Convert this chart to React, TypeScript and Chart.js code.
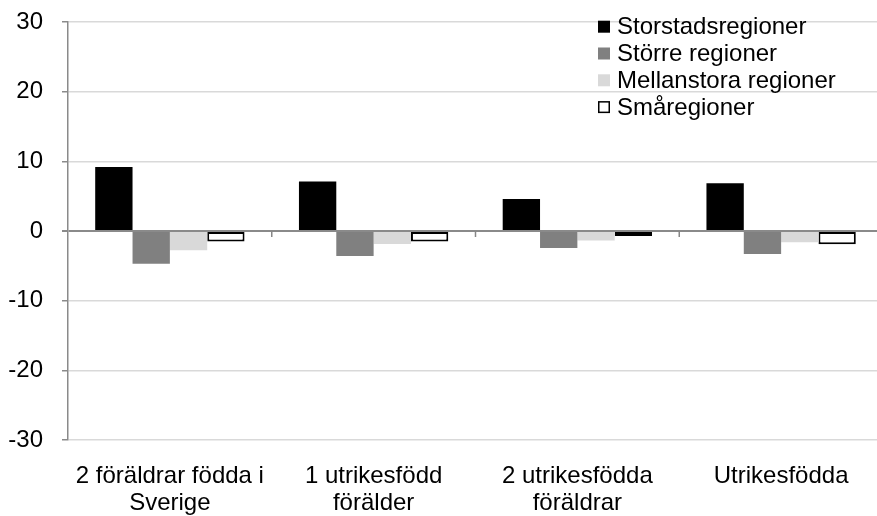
import React, { useEffect, useRef } from "react";
import { Chart, registerables } from "chart.js";

Chart.register(...registerables);

const categories: string[][] = [
  ["2 föräldrar födda i", "Sverige"],
  ["1 utrikesfödd", "förälder"],
  ["2 utrikesfödda", "föräldrar"],
  ["Utrikesfödda"],
];

const seriesNames = ["Storstadsregioner", "Större regioner", "Mellanstora regioner", "Småregioner"];
const storstadsregioner = [9.2, 7.1, 4.6, 6.85];
const storreRegioner = [-4.7, -3.6, -2.45, -3.3];
const mellanstoraRegioner = [-2.75, -1.85, -1.35, -1.6];
const smaregioner = [-1.5, -1.5, -0.7, -1.9];

const yTicks = [-30, -20, -10, 0, 10, 20, 30];

const FONT = "'Liberation Sans', Arial, sans-serif";

const fills = ["#000000", "#808080", "#d9d9d9", "#ffffff"];
const borders = ["#000000", "#808080", "#d9d9d9", "#000000"];
const borderWidths = [0, 0, 0, 2];

const customPlugin = {
  id: "customLegendAndTicks",
  afterDatasetsDraw(chart: any) {
    const ctx = chart.ctx;
    const x = chart.scales.x;
    const y = chart.scales.y;
    const y0 = y.getPixelForValue(0);
    ctx.save();
    ctx.strokeStyle = "#868686";
    ctx.lineWidth = 1.5;
    const n = categories.length;
    for (let i = 1; i < n; i++) {
      const px = (x.getPixelForValue(i - 1) + x.getPixelForValue(i)) / 2;
      ctx.beginPath();
      ctx.moveTo(px, y0);
      ctx.lineTo(px, y0 + 6);
      ctx.stroke();
    }
    const lx = 598;
    const ly = 26.7;
    const step = 26.8;
    ctx.font = `24px ${FONT}`;
    ctx.textBaseline = "middle";
    ctx.textAlign = "left";
    chart.data.datasets.forEach((ds: any, i: number) => {
      const cy = ly + i * step;
      ctx.fillStyle = ds.backgroundColor;
      ctx.fillRect(lx, cy - 6, 12, 12);
      if (ds.borderWidth) {
        ctx.strokeStyle = "#000";
        ctx.lineWidth = 1.5;
        ctx.strokeRect(lx + 0.75, cy - 5.25, 10.5, 10.5);
      }
      ctx.fillStyle = "#000";
      ctx.fillText(ds.label, 617, cy + 1);
    });
    ctx.restore();
  },
};

export default function App() {
  const ref = useRef<HTMLCanvasElement | null>(null);
  useEffect(() => {
    document.body.style.margin = "0";
    const values = [storstadsregioner, storreRegioner, mellanstoraRegioner, smaregioner];
    const chart = new Chart(ref.current as HTMLCanvasElement, {
      type: "bar",
      data: {
        labels: categories as any,
        datasets: seriesNames.map((name, i) => ({
          label: name,
          data: values[i],
          backgroundColor: fills[i],
          borderColor: borders[i],
          borderWidth: borderWidths[i],
          borderSkipped: false,
          categoryPercentage: 0.733,
          barPercentage: 1.0,
        })),
      },
      options: {
        responsive: false,
        animation: false,
        devicePixelRatio: 1,
        layout: { padding: { top: 22, right: 0, bottom: 0, left: 0 } },
        plugins: { legend: { display: false }, tooltip: { enabled: false } },
        scales: {
          x: {
            grid: { display: false, drawTicks: false },
            border: { display: false },
            ticks: {
              color: "#000",
              font: { family: FONT, size: 24, lineHeight: 1.125 },
              padding: 23,
              maxRotation: 0,
              autoSkip: false,
            },
            afterFit(scale: any) {
              scale.height = 76;
            },
          },
          y: {
            min: -30,
            max: 30,
            afterBuildTicks(scale: any) {
              scale.ticks = yTicks.map((v) => ({ value: v }));
            },
            grid: {
              color: (c: any) => (c.tick && c.tick.value === 0 ? "#8a8a8a" : "#d9d9d9"),
              lineWidth: (c: any) => (c.tick && c.tick.value === 0 ? 2 : 1.5),
              tickColor: "#8a8a8a",
              tickLength: 6,
            },
            border: { color: "#8a8a8a", width: 1.5 },
            ticks: {
              color: "#000",
              font: { family: FONT, size: 24 },
              padding: 19,
            },
            afterFit(scale: any) {
              scale.width = 68;
              scale.paddingTop = 12;
              scale.paddingBottom = 12;
            },
          },
        },
      },
      plugins: [customPlugin],
    });
    return () => chart.destroy();
  }, []);
  return (
    <div style={{ position: "fixed", left: 0, top: 0, width: 877, height: 516, overflow: "hidden", background: "#fff" }}>
      <canvas ref={ref} width={883} height={516} style={{ display: "block" }} />
    </div>
  );
}
